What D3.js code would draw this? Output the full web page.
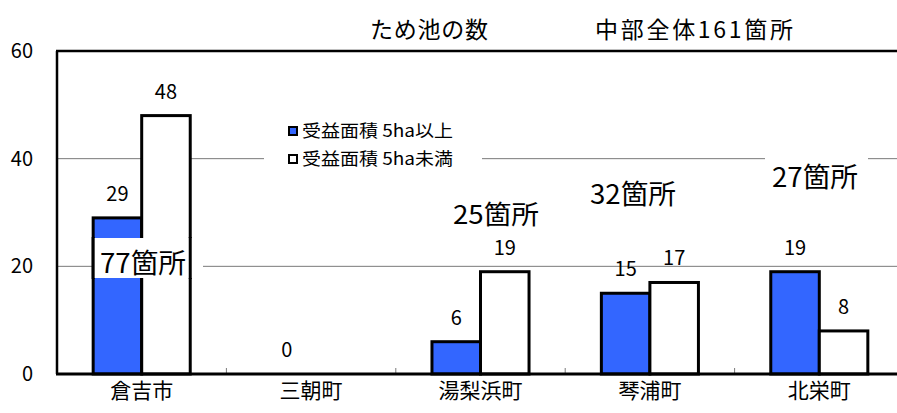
<!DOCTYPE html>
<html><head><meta charset="utf-8">
<script src="https://cdn.jsdelivr.net/npm/d3@7"></script>
<style>
html,body{margin:0;padding:0;background:#fff;}
svg{display:block;}
text{font-family:"Noto Sans CJK JP","Noto Sans",sans-serif;fill:#000;}
</style></head>
<body>
<svg id="c" width="897" height="413"></svg>
<script>
const categories = ["倉吉市","三朝町","湯梨浜町","琴浦町","北栄町"];
const seriesNames = ["受益面積 5ha以上","受益面積 5ha未満"];
const over5ha = [29, 0, 6, 15, 19];
const under5ha = [48, 0, 19, 17, 8];
const showLabelOver = [true, true, true, true, true];
const showLabelUnder = [true, false, true, true, true];
const yTicks = [0, 20, 40, 60];
const totals = ["77箇所","0","25箇所","32箇所","27箇所"];
const titleText = "ため池の数";
const subtitleText = "中部全体161箇所";
const colors = ["#3366ff", "#ffffff"];

const svg = d3.select("#c");
const L = 57, T = 51, B = 374, R = 904;
const x = d3.scaleBand().domain(categories).range([L, R]).paddingInner(0).paddingOuter(0);
const y = d3.scaleLinear().domain([0, 60]).range([B, T]);
const bw = x.bandwidth();
const barW = bw * 0.2865;
const xs = d3.scaleBand().domain(seriesNames).range([bw/2 - barW, bw/2 + barW]);

// gridlines
const grid = svg.append("g");
grid.selectAll("line").data(yTicks.filter(d => d > 0 && d < 60)).join("line")
  .attr("x1", L).attr("x2", 897).attr("y1", d => y(d)).attr("y2", d => y(d))
  .attr("stroke", "#7a7a7a").attr("stroke-width", 1);

// category boundary ticks
svg.append("g").selectAll("line").data(categories.slice(1)).join("line")
  .attr("x1", d => x(d)).attr("x2", d => x(d)).attr("y1", B).attr("y2", B - 6)
  .attr("stroke", "#7a7a7a").attr("stroke-width", 1);

// bars
const data = categories.map((c, i) => ({c, vals: [over5ha[i], under5ha[i]], show: [showLabelOver[i], showLabelUnder[i]]}));
const g = svg.append("g");
data.forEach(d => {
  d.vals.forEach((v, j) => {
    if (v > 0) {
      g.append("rect")
        .attr("x", x(d.c) + xs(seriesNames[j]))
        .attr("y", y(v))
        .attr("width", xs.bandwidth())
        .attr("height", y(0) - y(v))
        .attr("fill", colors[j]).attr("stroke", "#000").attr("stroke-width", 3);
    }
  });
});

// axes frame
svg.append("line").attr("x1", L).attr("x2", L).attr("y1", T).attr("y2", B).attr("stroke", "#000").attr("stroke-width", 2.5);
svg.append("line").attr("x1", L-1).attr("x2", 897).attr("y1", T).attr("y2", T).attr("stroke", "#000").attr("stroke-width", 2.5);
svg.append("line").attr("x1", L-1).attr("x2", 897).attr("y1", B).attr("y2", B).attr("stroke", "#000").attr("stroke-width", 3);

// value labels
data.forEach(d => {
  d.vals.forEach((v, j) => {
    if (!d.show[j]) return;
    svg.append("text")
      .attr("x", x(d.c) + xs(seriesNames[j]) + xs.bandwidth()/2)
      .attr("y", y(v) - 17)
      .attr("text-anchor", "middle")
      .attr("font-size", 20)
      .text(v);
  });
});

// y tick labels
svg.append("g").selectAll("text").data(yTicks).join("text")
  .attr("x", 33).attr("y", d => y(d) + 7)
  .attr("text-anchor", "end").attr("font-size", 20)
  .text(d => d);

// category labels
svg.append("g").selectAll("text").data(categories).join("text")
  .attr("x", d => x(d) + bw/2).attr("y", 398)
  .attr("text-anchor", "middle").attr("font-size", 21)
  .text(d => d);

// titles
svg.append("text").attr("x", 370).attr("y", 38).attr("font-size", 23)
  .attr("textLength", 118).attr("lengthAdjust", "spacing").text(titleText);
svg.append("text").attr("x", 595).attr("y", 38).attr("font-size", 23)
  .attr("textLength", 198).attr("lengthAdjust", "spacing").text(subtitleText);

// legend (white background interrupts gridline)
svg.append("rect").attr("x", 264).attr("y", 115).attr("width", 218).attr("height", 60).attr("fill", "#fff");
seriesNames.forEach((s, i) => {
  const ly = 131 + i * 28;
  svg.append("rect").attr("x", 289).attr("y", ly - 4).attr("width", 8).attr("height", 8)
    .attr("fill", colors[i]).attr("stroke", "#000").attr("stroke-width", 2);
  svg.append("text").attr("x", 302).attr("y", ly + 6).attr("font-size", 17)
    .attr("textLength", 151).attr("lengthAdjust", "spacingAndGlyphs").text(s);
});

// total annotations
const ann = [
  {i: 0, x: 100, y: 273, fs: 27, box: [94, 238, 109, 40]},
  {i: 2, x: 453, y: 224, fs: 26, box: null},
  {i: 3, x: 590, y: 204, fs: 27, box: null},
  {i: 4, x: 772, y: 187, fs: 27, box: [765, 150, 103, 45]}
];
ann.forEach(a => {
  if (a.box) {
    svg.append("rect").attr("x", a.box[0]).attr("y", a.box[1]).attr("width", a.box[2]).attr("height", a.box[3]).attr("fill", "#fff");
  }
  svg.append("text").attr("x", a.x).attr("y", a.y).attr("font-size", a.fs)
    .attr("textLength", 86).attr("lengthAdjust", "spacingAndGlyphs").text(totals[a.i]);
});
// restore bar borders through the 77箇所 box
[[1, true], [0, false]].forEach(([j, right]) => {
  const bx = x(categories[0]) + xs(seriesNames[j]) + (right ? xs.bandwidth() : 0);
  svg.append("line").attr("x1", bx).attr("x2", bx)
    .attr("y1", 237).attr("y2", 279).attr("stroke", "#000").attr("stroke-width", 3);
});
</script>
</body></html>
